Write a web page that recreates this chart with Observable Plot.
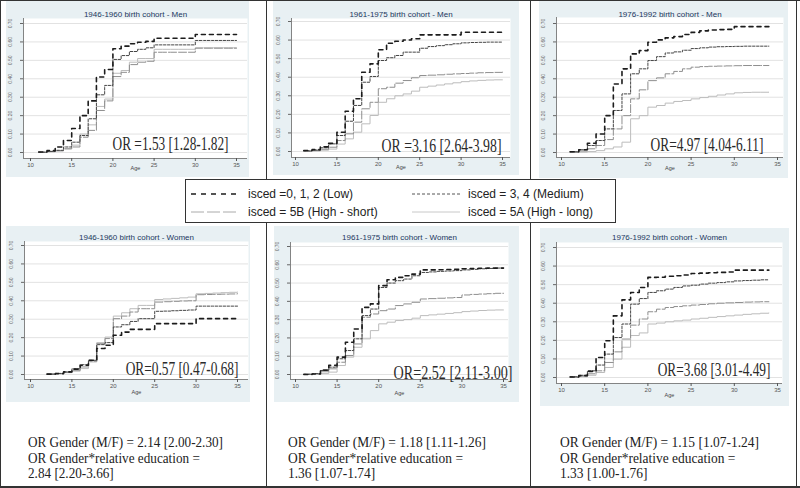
<!DOCTYPE html>
<html><head><meta charset="utf-8">
<script src="https://cdn.jsdelivr.net/npm/d3@7"></script>
<script src="https://cdn.jsdelivr.net/npm/@observablehq/plot@0.6"></script>
<style>
body{margin:0;background:#fff;}
#root{position:relative;width:800px;height:488px;overflow:hidden;font-family:"Liberation Sans",Arial,sans-serif;background:#fff;}
.panel{position:absolute;line-height:0;}
.rule{position:absolute;background:#333;}
.legend{position:absolute;left:185px;top:179px;width:429px;height:42px;border:1px solid #333;background:#fff;font-size:12px;color:#222;}
.lg{position:absolute;white-space:nowrap;line-height:14px;}
.sw{position:absolute;}
.note{position:absolute;font-family:"Liberation Serif","Times New Roman",serif;font-size:15px;line-height:15.5px;color:#222;white-space:nowrap;transform-origin:0 0;}
</style></head><body><div id="root"></div>
<script>
// ---------- data ----------
const xTicks = [10, 15, 20, 25, 30, 35];
const yTicks = [0, 0.1, 0.2, 0.3, 0.4, 0.5, 0.6, 0.7];
const seriesNames = ["isced =0, 1, 2 (Low)", "isced = 3, 4 (Medium)", "isced = 5B (High - short)", "isced = 5A (High - long)"];

const ages11to35 = [11,12,13,14,15,16,17,18,19,20,21,22,23,24,25,26,27,28,29,30,31,32,33,34,35];
const ages11to34 = [11,12,13,14,15,16,17,18,19,20,21,22,23,24,25,26,27,28,29,30,31,32,33,34];
const ages12to35 = [12,13,14,15,16,17,18,19,20,21,22,23,24,25,26,27,28,29,30,31,32,33,34,35];

const titles = ["1946-1960 birth cohort - Men", "1961-1975 birth cohort - Men", "1976-1992 birth cohort - Men",
                "1946-1960 birth cohort - Women", "1961-1975 birth cohort - Women", "1976-1992 birth cohort - Women"];
const orLabels = ["OR =1.53 [1.28-1.82]", "OR =3.16 [2.64-3.98]", "OR=4.97 [4.04-6.11]",
                  "OR=0.57 [0.47-0.68]", "OR=2.52 [2.11-3.00]", "OR=3.68 [3.01-4.49]"];
const genderNotes = [
  ["OR Gender (M/F) = 2.14 [2.00-2.30]", "OR Gender*relative education =", "2.84 [2.20-3.66]"],
  ["OR Gender (M/F) = 1.18 [1.11-1.26]", "OR Gender*relative education =", "1.36 [1.07-1.74]"],
  ["OR Gender (M/F) = 1.15 [1.07-1.24]", "OR Gender*relative education =", "1.33 [1.00-1.76]"]
];

// Men 1946-1960 (ages 11-35)
const men4660_low  = [0.003,0.010,0.030,0.065,0.130,0.200,0.280,0.410,0.450,0.563,0.577,0.590,0.598,0.603,0.620,0.620,0.620,0.620,0.620,0.640,0.640,0.640,0.640,0.640,0.640];
const men4660_med  = [0.002,0.006,0.012,0.030,0.056,0.092,0.183,0.313,0.364,0.505,0.526,0.548,0.560,0.568,0.584,0.584,0.584,0.584,0.584,0.608,0.608,0.608,0.608,0.608,0.608];
const men4660_5b   = [0.000,0.005,0.010,0.020,0.030,0.083,0.120,0.228,0.280,0.412,0.435,0.477,0.490,0.495,0.544,0.544,0.544,0.544,0.544,0.566,0.566,0.566,0.566,0.566,0.566];
const men4660_5a   = [0.002,0.004,0.008,0.020,0.040,0.100,0.150,0.250,0.290,0.430,0.445,0.490,0.510,0.510,0.560,0.560,0.560,0.560,0.560,0.568,0.568,0.568,0.568,0.568,0.568];
// Men 1961-1975 (ages 11-35)
const men6175_low  = [0.005,0.010,0.025,0.044,0.104,0.217,0.284,0.427,0.472,0.548,0.583,0.594,0.600,0.607,0.628,0.628,0.628,0.628,0.628,0.642,0.642,0.642,0.642,0.642,0.642];
const men6175_med  = [0.003,0.008,0.020,0.041,0.086,0.163,0.248,0.373,0.404,0.490,0.505,0.517,0.535,0.535,0.556,0.565,0.570,0.575,0.580,0.585,0.587,0.588,0.589,0.589,0.589];
const men6175_5b   = [0.002,0.005,0.012,0.023,0.059,0.095,0.158,0.230,0.265,0.338,0.346,0.368,0.382,0.397,0.409,0.411,0.413,0.416,0.418,0.420,0.422,0.424,0.425,0.426,0.427];
const men6175_5a   = [0.001,0.003,0.007,0.013,0.040,0.068,0.104,0.149,0.194,0.265,0.284,0.300,0.310,0.325,0.346,0.352,0.358,0.364,0.370,0.376,0.380,0.383,0.385,0.386,0.386];
// Men 1976-1992 (ages 11-34)
const men7692_low  = [0.004,0.015,0.050,0.100,0.200,0.372,0.454,0.535,0.553,0.598,0.611,0.622,0.629,0.640,0.652,0.660,0.665,0.667,0.668,0.683,0.683,0.683,0.683,0.683];
const men7692_med  = [0.004,0.015,0.038,0.065,0.128,0.228,0.318,0.427,0.454,0.499,0.520,0.540,0.546,0.555,0.564,0.568,0.572,0.574,0.575,0.576,0.577,0.577,0.577,0.577];
const men7692_5b   = [0.002,0.008,0.020,0.038,0.070,0.128,0.200,0.291,0.340,0.390,0.405,0.427,0.440,0.454,0.463,0.466,0.468,0.469,0.470,0.471,0.472,0.472,0.472,0.472];
const men7692_5a   = [0.000,0.002,0.005,0.010,0.020,0.030,0.056,0.183,0.200,0.246,0.255,0.268,0.277,0.282,0.291,0.298,0.305,0.312,0.318,0.324,0.326,0.327,0.327,0.327];
// Women 1946-1960 (ages 12-35)
const wom4660_low  = [0.002,0.005,0.014,0.029,0.050,0.077,0.141,0.159,0.213,0.230,0.245,0.245,0.245,0.276,0.276,0.276,0.276,0.276,0.303,0.303,0.303,0.303,0.303,0.303];
const wom4660_med  = [0.002,0.006,0.014,0.031,0.053,0.077,0.162,0.173,0.258,0.270,0.288,0.303,0.303,0.343,0.344,0.346,0.348,0.350,0.371,0.371,0.371,0.371,0.371,0.371];
const wom4660_5b   = [0.002,0.005,0.012,0.023,0.041,0.072,0.167,0.195,0.303,0.317,0.339,0.357,0.357,0.393,0.395,0.397,0.399,0.400,0.433,0.434,0.435,0.436,0.437,0.438];
const wom4660_5a   = [0.002,0.004,0.010,0.018,0.032,0.068,0.173,0.203,0.317,0.335,0.357,0.375,0.375,0.407,0.410,0.413,0.416,0.420,0.438,0.440,0.442,0.444,0.446,0.447];
// Women 1961-1975 (ages 11-35)
const wom6175_low  = [0.000,0.003,0.024,0.050,0.095,0.176,0.249,0.367,0.386,0.486,0.518,0.531,0.540,0.549,0.572,0.572,0.573,0.574,0.575,0.578,0.580,0.581,0.582,0.582,0.582];
const wom6175_med  = [0.002,0.005,0.022,0.040,0.086,0.131,0.195,0.322,0.358,0.476,0.500,0.513,0.522,0.540,0.558,0.561,0.564,0.566,0.568,0.572,0.575,0.578,0.580,0.582,0.582];
const wom6175_5b   = [0.001,0.004,0.015,0.031,0.067,0.104,0.167,0.313,0.331,0.349,0.358,0.377,0.386,0.395,0.413,0.415,0.417,0.419,0.421,0.435,0.438,0.440,0.442,0.444,0.444];
const wom6175_5a   = [0.000,0.002,0.005,0.013,0.049,0.095,0.149,0.195,0.240,0.277,0.286,0.295,0.300,0.308,0.322,0.326,0.330,0.334,0.338,0.344,0.347,0.350,0.352,0.353,0.353];
// Women 1976-1992 (ages 11-34)
const wom7692_low  = [0.003,0.010,0.033,0.108,0.198,0.332,0.418,0.458,0.485,0.539,0.540,0.545,0.548,0.552,0.560,0.562,0.564,0.566,0.568,0.578,0.578,0.578,0.578,0.578];
const wom7692_med  = [0.004,0.012,0.036,0.067,0.126,0.215,0.288,0.395,0.425,0.458,0.467,0.476,0.485,0.493,0.497,0.503,0.508,0.511,0.515,0.520,0.522,0.524,0.526,0.526];
const wom7692_5b   = [0.002,0.008,0.020,0.036,0.081,0.138,0.207,0.282,0.315,0.354,0.368,0.377,0.382,0.386,0.390,0.393,0.397,0.400,0.402,0.404,0.406,0.407,0.408,0.408];
const wom7692_5a   = [0.001,0.004,0.012,0.027,0.054,0.099,0.163,0.226,0.240,0.288,0.293,0.300,0.305,0.309,0.315,0.319,0.324,0.328,0.332,0.336,0.340,0.343,0.346,0.347];

// ---------- styles / layout ----------
const lineStyles = [
  {stroke: "#1c1c1c", strokeWidth: 1.6, strokeDasharray: "4,4"},
  {stroke: "#454545", strokeWidth: 1.0, strokeDasharray: "2.5,1.5"},
  {stroke: "#8e8e8e", strokeWidth: 1.0, strokeDasharray: "8,2"},
  {stroke: "#bcbcbc", strokeWidth: 1.0, strokeDasharray: null}
];

const panels = [
  {title: titles[0], or: orLabels[0], ages: ages11to35, series: [men4660_low, men4660_med, men4660_5b, men4660_5a],
   L: {bx0:6, bx1:249, by0:0, by1:177, x0:23, x1:247, y0:18, y1:158, px10:30, px35:236, py0:152, py70:23, titleY:14, ageY:168, orX:228, orY:143, orW:116}},
  {title: titles[1], or: orLabels[1], ages: ages11to35, series: [men6175_low, men6175_med, men6175_5b, men6175_5a],
   L: {bx0:273, bx1:519, by0:0, by1:175, x0:291, x1:510, y0:18, y1:157, px10:295, px35:502, py0:151, py70:21, titleY:14, ageY:167, orX:501, orY:145, orW:120}},
  {title: titles[2], or: orLabels[2], ages: ages11to34, series: [men7692_low, men7692_med, men7692_5b, men7692_5a],
   L: {bx0:539, bx1:788, by0:0, by1:178, x0:556, x1:783, y0:17, y1:157, px10:561, px35:777, py0:152, py70:23, titleY:14, ageY:168, orX:763, orY:144, orW:113}},
  {title: titles[3], or: orLabels[3], ages: ages12to35, series: [wom4660_low, wom4660_med, wom4660_5b, wom4660_5a],
   L: {bx0:6, bx1:250, by0:226, by1:402, x0:24, x1:248, y0:241, y1:379, px10:30, px35:237, py0:374, py70:245, titleY:237, ageY:392, orX:238, orY:368, orW:113}},
  {title: titles[4], or: orLabels[4], ages: ages11to35, series: [wom6175_low, wom6175_med, wom6175_5b, wom6175_5a],
   L: {bx0:274, bx1:519, by0:226, by1:402, x0:290, x1:508, y0:242, y1:379, px10:295, px35:503, py0:374, py70:246, titleY:237, ageY:393, orX:512, orY:372, orW:119}},
  {title: titles[5], or: orLabels[5], ages: ages11to34, series: [wom7692_low, wom7692_med, wom7692_5b, wom7692_5a],
   L: {bx0:540, bx1:789, by0:228, by1:406, x0:556, x1:782, y0:242, y1:383, px10:561, px35:777, py0:377, py70:247, titleY:237, ageY:395, orX:770, orY:369, orW:113}}
];

const root = document.getElementById("root");

function makePanel(p) {
  const L = p.L;
  const sx = (L.px35 - L.px10) / 25;
  const sy = (L.py0 - L.py70) / 0.7;
  const xmin = 10 - (L.px10 - L.x0) / sx, xmax = 35 + (L.x1 - L.px35) / sx;
  const ymin = -(L.y1 - L.py0) / sy, ymax = 0.7 + (L.py70 - L.y0) / sy;
  const W = L.bx1 - L.bx0, H = L.by1 - L.by0;
  const lineMarks = p.series.map((vals, si) => {
    const rows = p.ages.map((a, i) => ({age: a, value: vals[i], series: seriesNames[si]}));
    const st = lineStyles[si];
    const o = {x: "age", y: "value", curve: "step-after", stroke: st.stroke, strokeWidth: st.strokeWidth};
    if (st.strokeDasharray) o.strokeDasharray = st.strokeDasharray;
    return Plot.line(rows, o);
  });
  const svg = Plot.plot({
    width: W, height: H,
    marginLeft: L.x0 - L.bx0, marginRight: L.bx1 - L.x1,
    marginTop: L.y0 - L.by0, marginBottom: L.by1 - L.y1,
    x: {domain: [xmin, xmax]},
    y: {domain: [ymin, ymax]},
    style: {background: "#e8f0f3", fontFamily: "Liberation Sans, Arial, sans-serif", overflow: "visible"},
    marks: [
      Plot.frame({fill: "white", stroke: "none"}),
      Plot.gridY(yTicks, {stroke: "#e2e2e2", strokeOpacity: 1}),
      ...lineMarks.slice().reverse(),
      Plot.ruleX([xmin], {stroke: "#666", strokeWidth: 0.8}),
      Plot.ruleY([ymin], {stroke: "#666", strokeWidth: 0.8}),
      Plot.axisX({ticks: xTicks, tickSize: 3, tickPadding: 1, fontSize: 6, label: null, color: "#555"}),
      Plot.axisY({ticks: yTicks, tickSize: 3, tickPadding: 9, tickRotate: -90, tickFormat: d3.format(".2f"), fontSize: 5, label: null, color: "#666"}),
      Plot.text([p.title], {text: d => d, frameAnchor: "top", lineAnchor: "middle", dy: L.titleY - L.y0, fontSize: 8, fill: "#22375e"}),
      Plot.text(["Age"], {text: d => d, frameAnchor: "bottom", lineAnchor: "middle", dy: L.ageY - L.y1, fontSize: 5.5, fill: "#444"}),
      Plot.text([p.or], {text: d => d, frameAnchor: "bottom-right", textAnchor: "end", lineAnchor: "middle",
        dx: L.orX - L.x1, dy: L.orY - L.y1, fontSize: 19, fontFamily: "Liberation Serif, Times New Roman, serif", fill: "#2a2a2a"})
    ]
  });
  const div = document.createElement("div");
  div.className = "panel";
  div.style.left = L.bx0 + "px";
  div.style.top = L.by0 + "px";
  div.appendChild(svg);
  root.appendChild(div);
  // condense the OR label horizontally around its end anchor
  svg.querySelectorAll("text").forEach(t => {
    if (t.textContent.startsWith("OR")) {
      const bb = t.getBBox();
      const f = L.orW / bb.width;
      const ax = bb.x + bb.width;
      const prev = t.getAttribute("transform") || "";
      t.setAttribute("transform", `${prev} translate(${ax},0) scale(${f},1) translate(${-ax},0)`);
    }
  });
}
panels.forEach(makePanel);

// ---------- table rules ----------
function rule(x, y, w, h) {
  const d = document.createElement("div");
  d.className = "rule";
  Object.assign(d.style, {left: x + "px", top: y + "px", width: w + "px", height: h + "px"});
  root.appendChild(d);
}
rule(266, 0, 1, 179); rule(266, 222, 1, 266);
rule(530, 0, 1, 179); rule(530, 222, 1, 266);
rule(0, 0, 800, 1); rule(0, 486, 800, 2); rule(796, 0, 1, 488); rule(0, 0, 1, 488);

// ---------- legend ----------
const legend = document.createElement("div");
legend.className = "legend";
root.appendChild(legend);
const legendPos = [{sx: 5, tx: 62, y: 7}, {sx: 226, tx: 282, y: 7}, {sx: 5, tx: 62, y: 25}, {sx: 226, tx: 282, y: 25}];
const swatchDash = ["5,5", "3,2", "13,3", null];
const swatchStyle = [{c: "#1c1c1c", w: 1.6}, {c: "#555", w: 1}, {c: "#aaa", w: 1}, {c: "#c8c8c8", w: 1}];
seriesNames.forEach((name, i) => {
  const pos = legendPos[i];
  const ns = "http://www.w3.org/2000/svg";
  const s = document.createElementNS(ns, "svg");
  s.setAttribute("class", "sw");
  s.setAttribute("width", 48); s.setAttribute("height", 6);
  s.style.left = pos.sx + "px"; s.style.top = (pos.y + 4) + "px";
  const ln = document.createElementNS(ns, "line");
  ln.setAttribute("x1", 0); ln.setAttribute("x2", 48); ln.setAttribute("y1", 3); ln.setAttribute("y2", 3);
  ln.setAttribute("stroke", swatchStyle[i].c); ln.setAttribute("stroke-width", swatchStyle[i].w);
  if (swatchDash[i]) ln.setAttribute("stroke-dasharray", swatchDash[i]);
  s.appendChild(ln);
  legend.appendChild(s);
  const t = document.createElement("div");
  t.className = "lg";
  t.style.left = pos.tx + "px"; t.style.top = pos.y + "px";
  t.textContent = name;
  legend.appendChild(t);
});

// ---------- notes below ----------
const noteX = [28, 288, 560];
const noteW = [195, 198, 199];
genderNotes.forEach((lines, i) => {
  const d = document.createElement("div");
  d.className = "note";
  d.style.left = noteX[i] + "px";
  d.style.top = "435px";
  lines.forEach((ln) => {
    const row = document.createElement("div");
    const s2 = document.createElement("span");
    s2.textContent = ln;
    row.appendChild(s2);
    d.appendChild(row);
  });
  root.appendChild(d);
  const w = d.querySelector("span").getBoundingClientRect().width;
  d.style.transform = "scaleX(" + (noteW[i] / w) + ")";
});
</script></body></html>
